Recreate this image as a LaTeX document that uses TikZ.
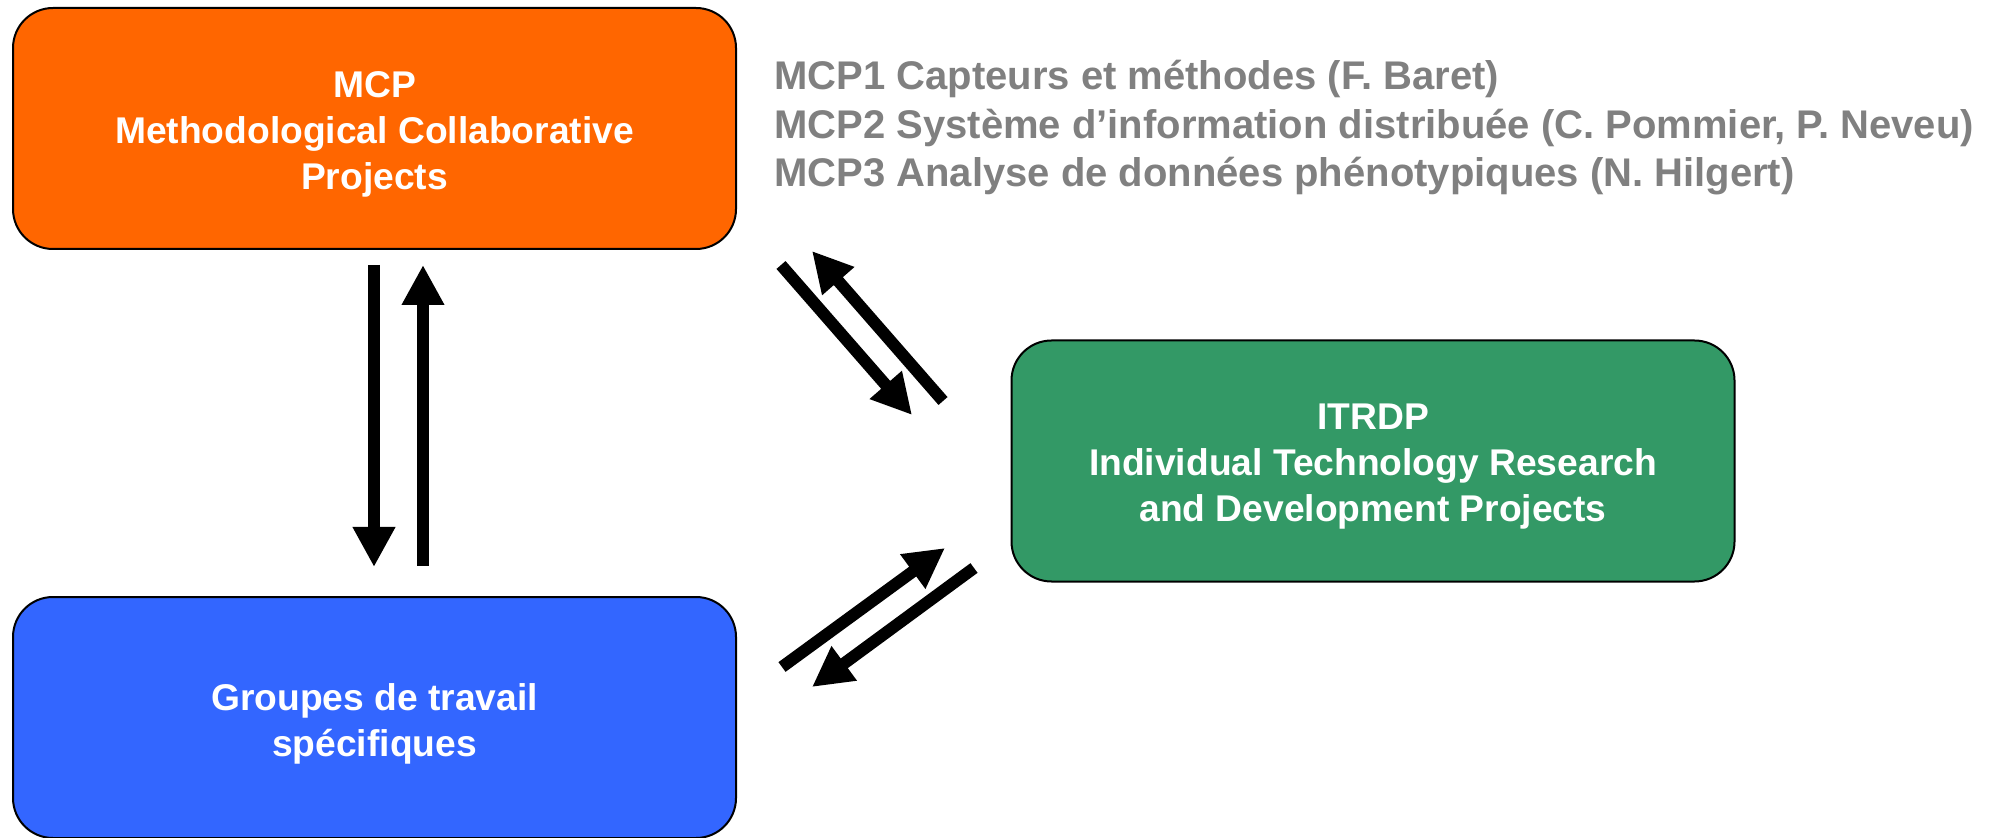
\documentclass[tikz,border=0pt]{standalone}
\usepackage{fontspec}
\setmainfont{Liberation Sans}
\usetikzlibrary{arrows.meta}
\definecolor{mcporange}{HTML}{FF6600}
\definecolor{grpblue}{HTML}{3366FF}
\definecolor{itgreen}{HTML}{339966}
\definecolor{txtgray}{HTML}{808080}
\begin{document}
\begin{tikzpicture}[x=0.5pt,y=-0.5pt,
  box/.style={draw=black, line width=1pt, rounded corners=20pt,
    minimum width=361.5pt, minimum height=120.5pt, inner sep=0pt},
  boxtext/.style={align=center, text=white, inner sep=0pt, yshift=-3pt,
    font=\bfseries\fontsize{18.6}{23}\selectfont},
  flow/.style={line width=6pt, -{Triangle[length=20pt,width=20pt]}},
  note/.style={anchor=base west, inner sep=0pt, text=txtgray,
    font=\bfseries\fontsize{20}{24}\selectfont}]
\useasboundingbox (0,0) rectangle (1989,838);

\node[box, fill=mcporange] (mcp) at (374.5,128.5) {};
\node[boxtext] (mcpt) at (mcp.center) {MCP\\Methodological Collaborative\\Projects};
\node[box, fill=grpblue] (grp) at (374.5,717.5) {};
\node[boxtext] (grpt) at (grp.center) {Groupes de travail\\sp\'ecifiques};
\node[box, fill=itgreen] (itr) at (1373,461) {};
\node[boxtext] (itrt) at (itr.center) {ITRDP\\Individual Technology Research\\and Development Projects};

\node[note] (mcpa) at (774,90) {MCP1 Capteurs et méthodes (F. Baret)};
\node[note] (mcpb) at (774,139) {MCP2 Système d’information distribuée (C. Pommier, P. Neveu)};
\node[note] (mcpc) at (774,187) {MCP3 Analyse de données phénotypiques (N. Hilgert)};

\coordinate (v1s) at (374,265); \coordinate (v1e) at (374,567);
\coordinate (v2s) at (423,566); \coordinate (v2e) at (423,265);
\coordinate (d1s) at (781,265); \coordinate (d1e) at (912,415);
\coordinate (d2s) at (943,401); \coordinate (d2e) at (812,251);
\coordinate (d3s) at (782,667); \coordinate (d3e) at (945,548);
\coordinate (d4s) at (974,568); \coordinate (d4e) at (812,687);

\draw[flow] (v1s) -- (v1e);
\draw[flow] (v2s) -- (v2e);
\draw[flow] (d1s) -- (d1e);
\draw[flow] (d2s) -- (d2e);
\draw[flow] (d3s) -- (d3e);
\draw[flow] (d4s) -- (d4e);
\end{tikzpicture}
\end{document}
